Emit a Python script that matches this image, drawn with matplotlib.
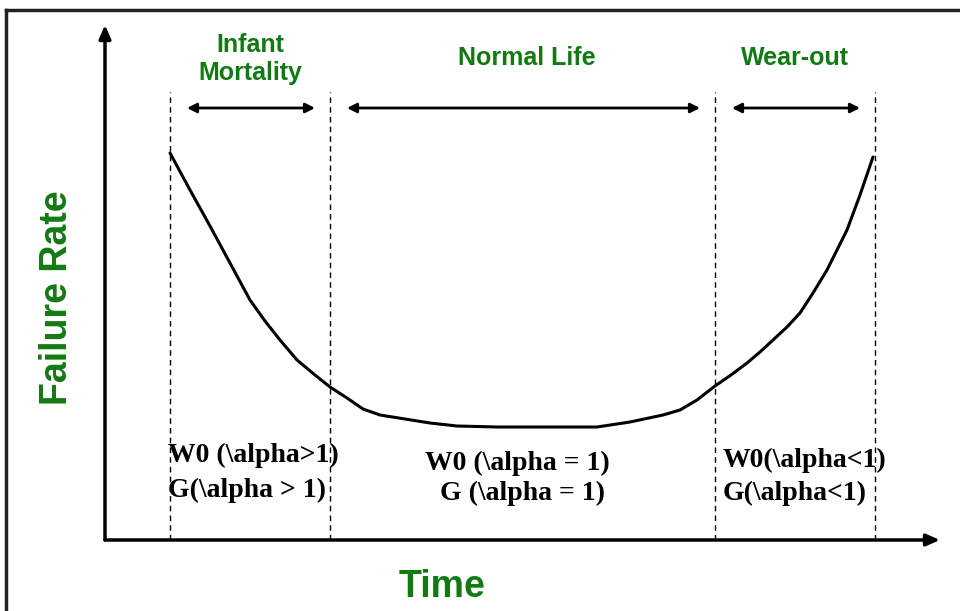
import matplotlib
matplotlib.use("Agg")
import matplotlib.pyplot as plt
from matplotlib.lines import Line2D

# ---- data (time vs failure rate, arbitrary units) ----
time = [65, 85, 105, 125, 145, 160, 175, 192, 210, 225, 242, 258, 275, 300, 325, 352,
        392, 442, 492, 525, 558, 575, 592, 610, 626, 642, 655, 668, 682, 695, 708,
        722, 732, 742, 755, 768]
failure_rate = [387, 350, 314, 277, 240, 219, 200, 180, 165, 153, 142, 131, 125, 121,
                117, 114, 113, 113, 113, 118, 125, 130, 140, 154, 165, 177, 188, 200,
                213, 227, 247, 270, 290, 310, 345, 383]
boundaries = [65, 225, 610, 770]
phase_names = ["Infant\nMortality", "Normal Life", "Wear-out"]
phase_models = [["W0 (\\alpha>1)", "G(\\alpha > 1)"],
                ["W0 (\\alpha = 1)", "G (\\alpha = 1)"],
                ["W0(\\alpha<1)", "G(\\alpha<1)"]]
x_label = "Time"
y_label = "Failure Rate"

GREEN = "#137a13"
W, H = 960, 611
fig = plt.figure(figsize=(W / 100, H / 100), dpi=100)

x0, y0, x1, y1 = 105, 540, 940, 25
ax = fig.add_axes([x0 / W, 1 - y0 / H, (x1 - x0) / W, (y0 - y1) / H])
ax.set_xlim(0, x1 - x0)
ax.set_ylim(0, y0 - y1)
ax.axis("off")

# axis arrows
for xy in [(0, y0 - y1), (x1 - x0, 0)]:
    ax.annotate("", xy=xy, xytext=(0, 0),
                arrowprops=dict(arrowstyle="-|>,head_length=0.8,head_width=0.35",
                                lw=2.5, color="black", shrinkA=0, shrinkB=0),
                annotation_clip=False)

# dashed boundaries
top = y0 - 92
for b in boundaries:
    ax.plot([b, b], [0, top], color="black", lw=1, linestyle=(0, (4, 3)))

# curve
ax.plot(time, failure_rate, color="black", lw=2.2, solid_capstyle="round",
        solid_joinstyle="round")

# double arrows and phase names
arrow_y = y0 - 108
gap = 17
for i in range(3):
    a, b = boundaries[i], boundaries[i + 1]
    ax.annotate("", xy=(b - gap + 2, arrow_y), xytext=(a + gap, arrow_y),
                arrowprops=dict(arrowstyle="<|-|>,head_length=0.55,head_width=0.28",
                                lw=2.0, color="black", shrinkA=0, shrinkB=0))
    ax.text((a + b) / 2 + (4 if i == 1 else 0), y0 - (59 if i == 0 else 58),
            phase_names[i], ha="center", va="center", color=GREEN, fontsize=18,
            fontweight="bold", family="Liberation Sans", linespacing=1.25)

# model labels (pixel positions of each line)
line_pos = [[(168, 455), (168, 490)],
            [(425, 463), (440, 493)],
            [(723, 460), (723, 493)]]
for pos, lines in zip(line_pos, phase_models):
    for (px, py), txt in zip(pos, lines):
        ax.text(px - x0, y0 - py, txt, ha="left", va="center", fontsize=20,
                fontweight="bold", family="Liberation Serif", color="black")

# axis titles
fig.text(442 / W, 1 - 587 / H, x_label, ha="center", va="center", color=GREEN,
         fontsize=27, fontweight="bold", family="Liberation Sans")
fig.text(57 / W, 1 - 298 / H, y_label, ha="center", va="center", color=GREEN,
         fontsize=27, fontweight="bold", family="Liberation Sans", rotation=90)

# outer frame (top and left edges)
fig.add_artist(Line2D([6 / W, 1], [1 - 10 / H, 1 - 10 / H], transform=fig.transFigure,
                      color="#222222", lw=2.5))
fig.add_artist(Line2D([6 / W, 6 / W], [0, 1 - 10 / H], transform=fig.transFigure,
                      color="#222222", lw=2.5))

fig.savefig("out.png", dpi=100)
